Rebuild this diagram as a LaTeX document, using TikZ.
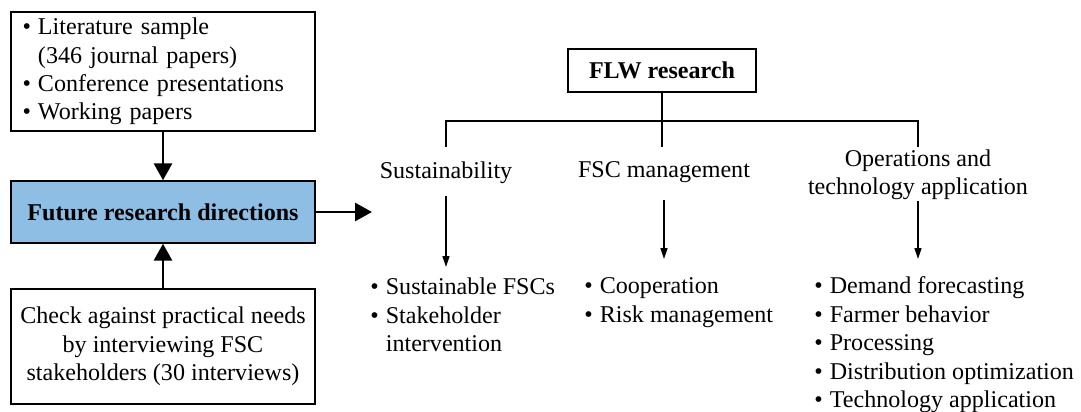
\documentclass[tikz,border=0pt]{standalone}
\usepackage{fontspec}
\setmainfont{Liberation Serif}
\usepackage{tikz}
\usetikzlibrary{arrows.meta,positioning,calc}
\definecolor{boxBlue}{RGB}{142,190,227}
\newcommand{\diagfont}{\fontsize{13.7pt}{16.2pt}\selectfont}
\newcommand{\itm}{\makebox[0.31cm][l]{\textbullet}}
\newcommand{\itmcont}{\hspace*{0.31cm}}

\begin{document}
\begin{tikzpicture}[
      box/.style   = {rectangle, draw=black, line width=0.8pt, minimum width=6.08cm,
          inner xsep=0.25cm, font=\diagfont},
      topic/.style = {align=center, inner sep=0pt, font=\diagfont},
      list/.style  = {align=left, inner sep=0pt, anchor=north west, font=\diagfont},
      big/.style   = {-{Triangle[length=0.34cm,width=0.36cm]}, line width=1.7pt},
      sub/.style   = {-{Triangle[length=0.22cm,width=0.14cm]}, line width=0.8pt},
      tree/.style  = {line width=0.8pt},
    ]
    \useasboundingbox (0,0) rectangle (21.62,8.22);

    % ── Left column ──────────────────────────────────────────────
    \node[box, text width=5.62cm, align=left, inner xsep=0.23cm, minimum height=2.38cm] (lit) at (3.26,6.79)
        {\itm Literature sample\\\itmcont(346 journal papers)\\\itm Conference presentations\\\itm Working papers};
    \node[box, fill=boxBlue, minimum height=1.24cm, font=\diagfont\bfseries] (frd) at (3.26,3.98)
        {Future research directions};
    \node[box, align=center, inner xsep=0.1cm, minimum height=2.30cm] (chk) at (3.26,1.29)
        {Check against practical needs\\by interviewing FSC\\stakeholders (30 interviews)};
    \coordinate (out) at (7.44,3.98);

    \draw[big] (lit) -- (frd);
    \draw[big] (chk) -- (frd);
    \draw[big] (frd) -- (out);

    % ── Research tree ────────────────────────────────────────────
    \node[box, minimum width=3.76cm, minimum height=0.86cm, font=\diagfont\bfseries] (flw) at (13.24,6.81)
        {FLW research};
    \coordinate (jn) at (13.24,5.80);
    \coordinate (b1) at (8.92,5.28);
    \coordinate (b2) at (13.24,5.28);
    \coordinate (b3) at (18.36,5.28);

    \draw[tree] (flw) -- (b2);
    \draw[tree] (b1) |- (jn) -| (b3);

    \node[topic] (sus) at (8.92,4.77)  {Sustainability};
    \node[topic] (fsc) at (13.28,4.77) {FSC management};
    \node[topic] (ops) at (18.36,4.72) {Operations and\\technology application};

    % ── Topic lists ──────────────────────────────────────────────
    \node[list] (susl) at (7.40,2.67)
        {\itm Sustainable FSCs\\\itm Stakeholder\\\itmcont intervention};
    \node[list] (fscl) at (11.68,2.67)
        {\itm Cooperation\\\itm Risk management};
    \node[list] (opsl) at (16.28,2.69)
        {\itm Demand forecasting\\\itm Farmer behavior\\\itm Processing\\\itm Distribution optimization\\\itm Technology application};

    \draw[sub, shorten <=0.25cm, shorten >=0.21cm] (sus) -- (sus |- susl.north);
    \draw[sub, shorten <=0.33cm, shorten >=0.37cm] (fsc) -- (fsc |- fscl.north);
    \draw[sub, shorten >=0.35cm] (ops) -- (ops |- opsl.north);

  \end{tikzpicture}
\end{document}
